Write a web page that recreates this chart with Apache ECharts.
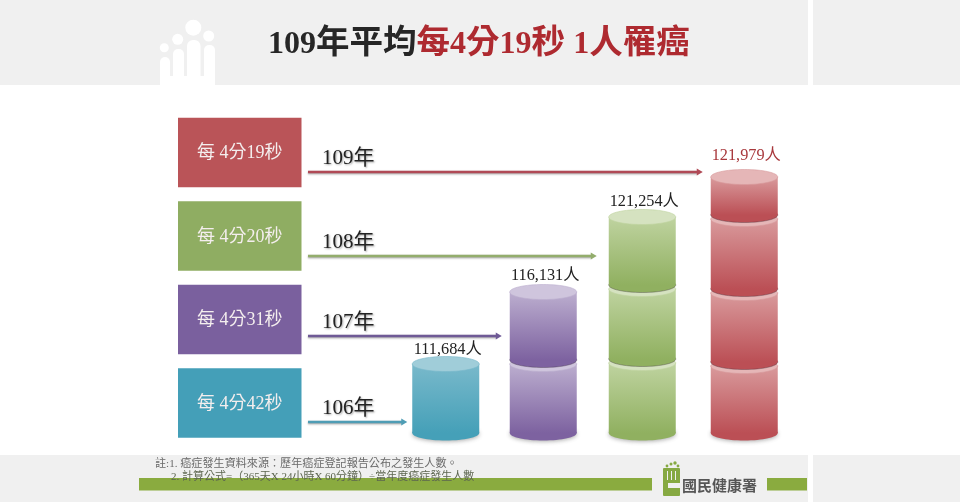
<!DOCTYPE html>
<html><head><meta charset="utf-8">
<style>html,body{margin:0;padding:0;background:#fff}#c{width:960px;height:502px}</style>
<script src="https://cdn.jsdelivr.net/npm/echarts@6/dist/echarts.min.js"></script>
</head><body><div id="c"></div>
<script>
const years = ['106年', '107年', '108年', '109年'];
const intervals = ['每 4分42秒', '每 4分31秒', '每 4分20秒', '每 4分19秒'];
const totals = [111684, 116131, 121254, 121979];
const segments106 = [69];
const segments107 = [73, 68];
const segments108 = [74, 74, 68];
const segments109 = [71, 73, 74, 38];
const arrowLevels = [11, 97, 177, 261];
const blockColors = ['#449fb8', '#7a609e', '#8fad62', '#ba5458'];
const lightColors = ['#79b9cb', '#bcaecf', '#bfd3a0', '#d99a9c'];
const darkColors = ['#45a0b8', '#7d62a0', '#90b060', '#bb4f55'];
const capColors = ['#a0cdd9', '#cfc5dd', '#d5e2c0', '#e5b6b7'];
const lineColors = ['#4f9db5', '#6f5a96', '#93ad6c', '#b04a56'];
const titleRed = ['每', '4', '分', '19', '秒 ', '1', '人罹癌'];
const noteLines = ['註:1. 癌症發生資料來源:歷年癌症登記報告公布之發生人數。'.replace('來源:', '來源：'), '2. 計算公式=（365天X 24小時X 60分鐘）÷當年度癌症發生人數'];
const agency = '國民健康署';

const serif = "'Liberation Serif','Noto Sans CJK TC',serif";
const stacks = [segments106, segments107, segments108, segments109];
const segmentData = [];
stacks.forEach((s, i) => { let base = 0; s.forEach((h, j) => { segmentData.push([i, base, base + h, j === s.length - 1 ? 1 : 0]); base += h; }); });
const columnNudge = [0, -2, -2.5, 0], arrowGap = [5, 8, 12, 8], labelLift = [14, 16, 15, 21];
const halfW = 33.5, ry = 7.5;
const grad = (a, b) => ({ type: 'linear', x: 0, y: 0, x2: 0, y2: 1, colorStops: [{ offset: 0, color: a }, { offset: 1, color: b }] });

function renderSegment(params, api) {
  const i = api.value(0), base = api.value(1), top = api.value(2), isTop = api.value(3);
  const cx = api.coord([i, 0])[0] + columnNudge[i];
  const yb = api.coord([i, base])[1], yt = api.coord([i, top])[1] + (isTop ? 0 : 4);
  const bottomStyle = base === 0
    ? { fill: darkColors[i], shadowBlur: 4, shadowColor: 'rgba(70,70,70,.45)', shadowOffsetY: 1 }
    : { fill: darkColors[i], stroke: 'rgba(60,50,60,.35)', lineWidth: 1 };
  const children = [
    { type: 'ellipse', shape: { cx, cy: yb, rx: halfW, ry }, style: bottomStyle },
    { type: 'rect', shape: { x: cx - halfW, y: yt, width: halfW * 2, height: yb - yt }, style: { fill: grad(lightColors[i], darkColors[i]) } },
    { type: 'ellipse', shape: { cx, cy: yt, rx: halfW, ry }, style: { fill: capColors[i], stroke: lightColors[i], lineWidth: .6 } }
  ];
  if (isTop) children.push({ type: 'text', z2: 10, style: { x: cx + 2, y: yt - labelLift[i], text: totals[i].toLocaleString('en-US') + '人', align: 'center', verticalAlign: 'middle', fontFamily: serif, fontSize: 16.3, fill: i === 3 ? '#a8383c' : '#222' } });
  return { type: 'group', children };
}
function renderArrow(params, api) {
  const i = api.value(0), lvl = api.value(1);
  const p = api.coord([i, lvl]), y = p[1];
  const xe = p[0] + columnNudge[i] - halfW - arrowGap[i], xs = 308;
  return { type: 'group', children: [
    { type: 'rect', shape: { x: xs, y: y - 1.3, width: xe - xs - 5, height: 2.6 }, style: { fill: lineColors[i], shadowBlur: 2, shadowColor: 'rgba(70,70,70,.5)', shadowOffsetY: 1 } },
    { type: 'polygon', shape: { points: [[xe - 6, y - 3.5], [xe, y], [xe - 6, y + 3.5]] }, style: { fill: lineColors[i] } },
    { type: 'text', style: { x: 322, y: y - 13.5, text: years[i], align: 'left', verticalAlign: 'middle', fontFamily: serif, fontSize: 21, fill: '#222', textShadowBlur: 2, textShadowColor: 'rgba(90,90,90,.55)', textShadowOffsetX: 1, textShadowOffsetY: 1 } }
  ] };
}
const redRuns = titleRed.map(t => /^\d+$/.test(t) ? '{rd|' + t + '}' : '{r|' + t + '}').join('');
const titleRich = {
  d: { fontFamily: serif, fontWeight: 'bold', fontSize: 33.5, color: '#262626' },
  dd: { fontFamily: serif, fontWeight: 'bold', fontSize: 32, color: '#262626' },
  r: { fontFamily: serif, fontWeight: 'bold', fontSize: 33.5, color: '#ae2a30' },
  rd: { fontFamily: serif, fontWeight: 'bold', fontSize: 32, color: '#ae2a30' }
};
const chart = echarts.init(document.getElementById('c'), null, { renderer: 'canvas' });
chart.setOption({
  animation: false,
  backgroundColor: '#fff',
  title: { left: 263, top: 23, text: '{dd|109}{d|年平均}' + redRuns, textStyle: { rich: titleRich } },
  grid: [
    { left: 396, right: 166, top: 100, bottom: 69 },
    { left: 178, width: 123.5, top: 110.75, height: 334 }
  ],
  xAxis: [
    { type: 'category', gridIndex: 0, data: years, show: false },
    { type: 'value', gridIndex: 1, min: 0, max: 1, show: false }
  ],
  yAxis: [
    { type: 'value', gridIndex: 0, min: 0, max: 333, show: false },
    { type: 'category', gridIndex: 1, data: years, show: false }
  ],
  graphic: [
    { type: 'rect', z: -1, shape: { x: 0, y: 0, width: 808, height: 85 }, style: { fill: '#f0f0f0' } },
    { type: 'rect', z: -1, shape: { x: 813, y: 0, width: 147, height: 85 }, style: { fill: '#f0f0f0' } },
    { type: 'rect', z: -1, shape: { x: 0, y: 455, width: 808, height: 47 }, style: { fill: '#f0f0f0' } },
    { type: 'rect', z: -1, shape: { x: 813, y: 455, width: 147, height: 47 }, style: { fill: '#f0f0f0' } },
    { type: 'circle', z: 0, shape: { cx: 164.3, cy: 47.7, r: 4.5 }, style: { fill: '#fff' } },
    { type: 'circle', z: 0, shape: { cx: 177.7, cy: 39.3, r: 5.5 }, style: { fill: '#fff' } },
    { type: 'circle', z: 0, shape: { cx: 193.3, cy: 27.7, r: 8 }, style: { fill: '#fff' } },
    { type: 'circle', z: 0, shape: { cx: 208.7, cy: 36, r: 5.5 }, style: { fill: '#fff' } },
    { type: 'rect', z: 0, shape: { x: 160, y: 57, width: 10, height: 28, r: [5, 5, 0, 0] }, style: { fill: '#fff' } },
    { type: 'rect', z: 0, shape: { x: 173, y: 49, width: 11, height: 36, r: [5, 5, 0, 0] }, style: { fill: '#fff' } },
    { type: 'rect', z: 0, shape: { x: 187, y: 40, width: 13.5, height: 45, r: [6, 6, 0, 0] }, style: { fill: '#fff' } },
    { type: 'rect', z: 0, shape: { x: 204, y: 45, width: 11, height: 40, r: [5, 5, 0, 0] }, style: { fill: '#fff' } },
    { type: 'rect', z: 0, shape: { x: 160, y: 76, width: 55, height: 9 }, style: { fill: '#fff' } },
    { type: 'rect', z: 0, shape: { x: 139, y: 478, width: 513, height: 12.5 }, style: { fill: '#8aab3f' } },
    { type: 'rect', z: 0, shape: { x: 767, y: 478, width: 40, height: 12.5 }, style: { fill: '#8aab3f' } },
    { type: 'rect', z: 0, shape: { x: 663, y: 468, width: 17, height: 28, r: 1 }, style: { fill: '#86a942' } },
    { type: 'rect', z: 1, shape: { x: 668, y: 483, width: 12, height: 5 }, style: { fill: '#f0f0f0' } },
    { type: 'rect', z: 1, shape: { x: 667, y: 471, width: 1, height: 9 }, style: { fill: '#f0f0f0' } },
    { type: 'rect', z: 1, shape: { x: 671, y: 471, width: 1, height: 9 }, style: { fill: '#f0f0f0' } },
    { type: 'rect', z: 1, shape: { x: 675, y: 471, width: 1, height: 9 }, style: { fill: '#f0f0f0' } },
    { type: 'circle', z: 1, shape: { cx: 667, cy: 466, r: 1.4 }, style: { fill: '#86a942' } },
    { type: 'circle', z: 1, shape: { cx: 671, cy: 464, r: 1.5 }, style: { fill: '#86a942' } },
    { type: 'circle', z: 1, shape: { cx: 675, cy: 463, r: 1.7 }, style: { fill: '#86a942' } },
    { type: 'circle', z: 1, shape: { cx: 678, cy: 466, r: 1.4 }, style: { fill: '#86a942' } },
    { type: 'text', z: 5, style: { x: 682, y: 485, text: agency, verticalAlign: 'middle', fontFamily: "'Noto Sans CJK TC'", fontWeight: 'bold', fontSize: 15, fill: '#565656' } },
    { type: 'text', z: 5, style: { x: 155, y: 464.5, text: noteLines[0], verticalAlign: 'middle', fontFamily: serif, fontSize: 11.1, fill: '#6a6a6a' } },
    { type: 'text', z: 5, style: { x: 171, y: 477.5, text: noteLines[1], verticalAlign: 'middle', fontFamily: serif, fontSize: 11, fill: '#5d6650' } }
  ],
  series: [
    { type: 'custom', xAxisIndex: 0, yAxisIndex: 0, renderItem: renderSegment, data: segmentData, encode: { x: 0, y: [1, 2] }, z: 3 },
    { type: 'custom', xAxisIndex: 0, yAxisIndex: 0, renderItem: renderArrow, data: years.map((y, i) => [i, arrowLevels[i]]), encode: { x: 0, y: 1 }, z: 4 },
    { type: 'bar', xAxisIndex: 1, yAxisIndex: 1, barWidth: 69.5, data: intervals.map((t, i) => ({ value: 1, name: t, itemStyle: { color: blockColors[i] } })),
      label: { show: true, position: 'inside', offset: [0, 1], formatter: p => p.name, fontFamily: serif, fontSize: 18, color: '#f4eeee' }, z: 2 }
  ]
});
</script></body></html>
